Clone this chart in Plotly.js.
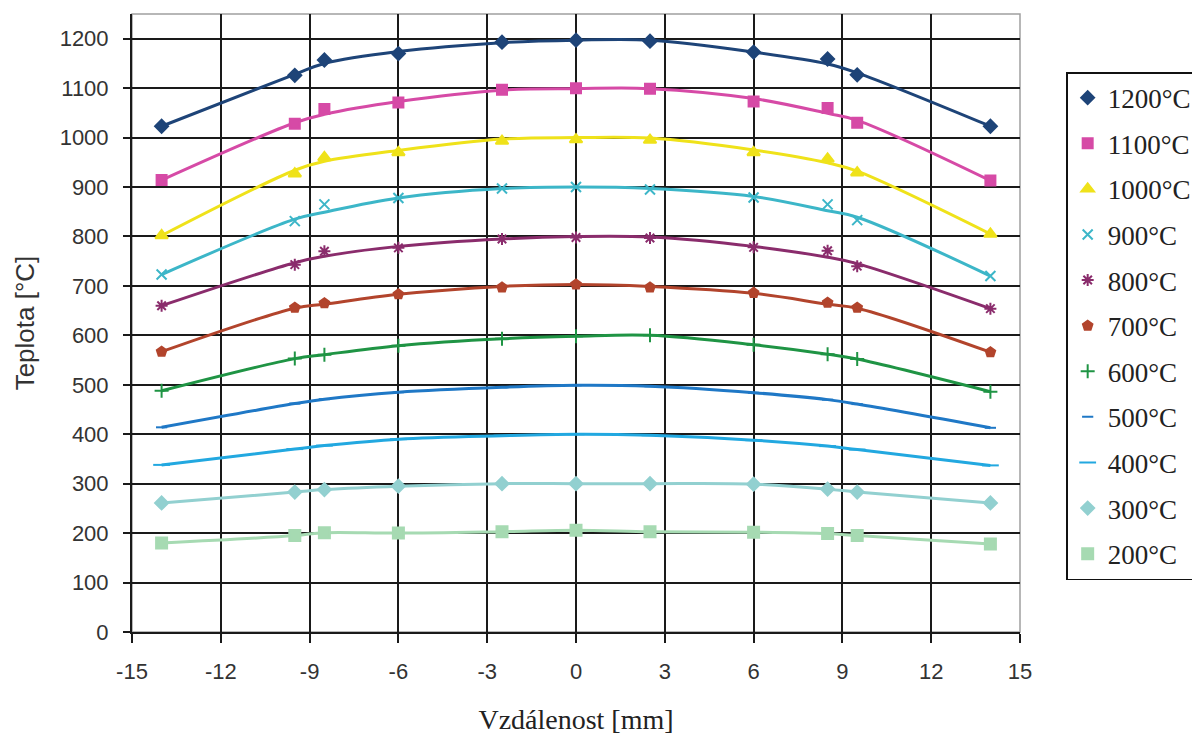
<!DOCTYPE html>
<html>
<head>
<meta charset="utf-8">
<script src="https://cdn.plot.ly/plotly-3.0.1.min.js"></script>
<style>html,body{margin:0;padding:0;background:#fff;}#chart{width:1192px;height:738px;}</style>
</head>
<body>
<div id="chart"></div>
<script>
// Measured points (markers)
const distance = [-14, -9.5, -8.5, -6, -2.5, 0, 2.5, 6, 8.5, 9.5, 14];

const seriesNames = ["1200°C", "1100°C", "1000°C", "900°C", "800°C", "700°C", "600°C", "500°C", "400°C", "300°C", "200°C"];

const t1200 = [1023, 1126, 1157, 1170, 1193, 1197, 1195, 1173, 1159, 1127, 1023];
const t1100 = [914, 1028, 1058, 1071, 1097, 1100, 1099, 1073, 1060, 1030, 913];
const t1000 = [802, 927, 960, 970, 993, 996, 995, 970, 957, 929, 805];
const t900  = [723, 831, 865, 878, 897, 900, 895, 879, 865, 833, 720];
const t800  = [660, 743, 770, 777, 795, 798, 797, 778, 771, 740, 654];
const t700  = [567, 656, 665, 683, 697, 703, 697, 686, 666, 656, 566];
const t600  = [488, 553, 561, 579, 593, 598, 600, 581, 562, 552, 486];
const t500  = [414, 462, 471, 485, 495, 499, 497, 484, 470, 461, 413];
const t400  = [338, 370, 377, 390, 397, 400, 398, 388, 376, 369, 337];
const t300  = [261, 283, 288, 295, 300, 300, 300, 299, 289, 283, 261];
const t200  = [180, 195, 201, 200, 203, 206, 203, 202, 199, 195, 178];

// Smoothed curves (at the same distances)
const c1200 = [1023, 1128, 1150, 1174, 1192, 1197, 1197, 1173, 1149, 1131, 1023];
const c1100 = [914, 1030, 1047, 1073, 1096, 1099, 1099, 1079, 1049, 1035, 913];
const c1000 = [802, 934, 952, 974, 997, 1000, 999, 975, 949, 932, 805];
const c900  = [723, 835, 849, 878, 897, 900, 897, 881, 852, 839, 720];
const c800  = [660, 747, 760, 780, 795, 800, 799, 780, 758, 745, 654];
const c700  = [567, 655, 663, 683, 699, 703, 699, 685, 663, 655, 566];

const seriesValues = [t1200, t1100, t1000, t900, t800, t700, t600, t500, t400, t300, t200];
const curveValues  = [c1200, c1100, c1000, c900, c800, c700, t600, t500, t400, t300, t200];

const xTickVals = [-15, -12, -9, -6, -3, 0, 3, 6, 9, 12, 15];
const xTickText = ["-15", "-12", "-9", "-6", "-3", "0", "3", "6", "9", "12", "15"];

const colors = ["#1e4478", "#d64aa6", "#efe21a", "#3cb6c8", "#8a2c6c", "#b2442c", "#1f9444", "#1f78c6", "#22a8e0", "#92d0d0", "#a6dab2"];
const symbols = ["diamond", "square", "triangle-up", "x-thin-open", "asterisk-open", "pentagon", "cross-thin-open", "line-ew-open", "line-ew-open", "diamond", "square"];
const sizes = [10, 10, 11, 10, 10, 10, 10, 8, 12, 10, 11];

const traces = [];
seriesNames.forEach((name, i) => {
  traces.push({
    x: distance, y: curveValues[i], type: "scatter", mode: "lines",
    line: {color: colors[i], width: 3, shape: "spline", smoothing: 1},
    name: name, legendgroup: "g" + i, showlegend: false, hoverinfo: "skip"
  });
  traces.push({
    x: distance, y: seriesValues[i], type: "scatter", mode: "markers",
    marker: {color: colors[i], symbol: symbols[i], size: sizes[i], line: {color: colors[i], width: 2}},
    name: name, legendgroup: "g" + i, showlegend: true
  });
});

const layout = {
  width: 1192, height: 738,
  paper_bgcolor: "#ffffff", plot_bgcolor: "#ffffff",
  margin: {l: 132, r: 172, t: 14, b: 106, autoexpand: false},
  showlegend: true,
  legend: {
    x: 1.052, y: 0.906, xanchor: "left", yanchor: "top",
    bgcolor: "#ffffff", bordercolor: "#111", borderwidth: 1.5,
    font: {family: "Liberation Serif, Times New Roman, serif", size: 27, color: "#222"},
    traceorder: "grouped", tracegroupgap: 7.5, itemwidth: 30
  },
  xaxis: {
    range: [-15, 15], tickmode: "array", tickvals: xTickVals, ticktext: xTickText,
    showgrid: true, gridcolor: "#1a1a1a", gridwidth: 2,
    zeroline: true, zerolinecolor: "#1a1a1a", zerolinewidth: 2,
    showline: true, linecolor: "#1a1a1a", linewidth: 2,
    ticks: "outside", ticklen: 9, tickwidth: 2, tickcolor: "#1a1a1a",
    ticklabelstandoff: 10,
    tickfont: {family: "Liberation Sans, Arial, sans-serif", size: 22, color: "#333"},
    title: {text: "Vzdálenost [mm]", font: {family: "Liberation Serif, Times New Roman, serif", size: 28, color: "#222"}, standoff: 26}
  },
  yaxis: {
    range: [0, 1250], tickmode: "linear", tick0: 0, dtick: 100,
    showgrid: true, gridcolor: "#1a1a1a", gridwidth: 2,
    zeroline: false,
    showline: true, linecolor: "#1a1a1a", linewidth: 2,
    ticks: "outside", ticklen: 7, tickwidth: 2, tickcolor: "#1a1a1a",
    ticklabelstandoff: 10,
    tickfont: {family: "Liberation Sans, Arial, sans-serif", size: 22, color: "#333"},
    title: {text: "Teplota [°C]", font: {family: "Liberation Sans, Arial, sans-serif", size: 26, color: "#333"}, standoff: 18}
  },
  shapes: [{
    type: "rect", xref: "paper", yref: "paper", x0: 0, x1: 1, y0: 0, y1: 1,
    line: {color: "#a0a0a0", width: 1.5}, layer: "below"
  }]
};

Plotly.newPlot("chart", traces, layout, {displayModeBar: false, staticPlot: true});
</script>
</body>
</html>
